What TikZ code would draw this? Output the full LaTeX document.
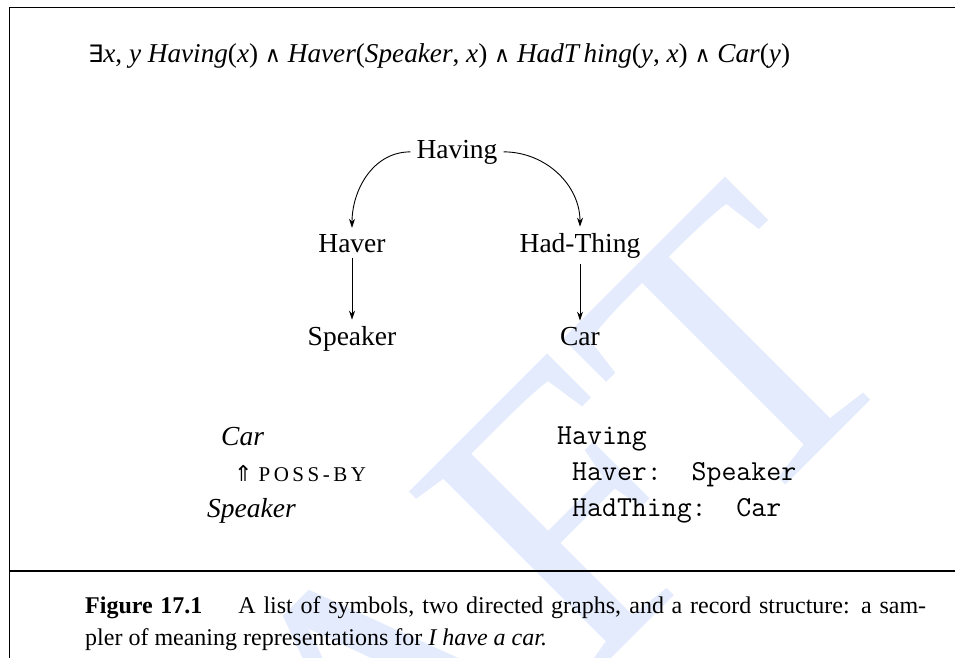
\documentclass[tikz,border=0pt]{standalone}
\usepackage{fontspec}
\setmainfont{Liberation Serif}
\newfontfamily\symfnt{DejaVu Sans}
\usetikzlibrary{arrows.meta}
\definecolor{wmblue}{RGB}{228,235,252}
\newcommand\treefont{\fontsize{27.5}{33}\selectfont}
\newcommand\formfont{\fontsize{27.2}{33}\selectfont}
\newcommand\recfont{\fontsize{29}{36}\selectfont\ttfamily}
\newcommand\capfont{\fontsize{24}{32}\selectfont}
\newcommand\wmfont{\fontsize{398}{400}\selectfont}
\newcommand\smallcapsfake{\fontsize{21}{26}\selectfont}
\newcommand\exsym{{\symfnt\fontsize{24}{30}\selectfont ∃}}
\newcommand\andsym{{\symfnt\fontsize{22}{30}\selectfont ∧}}
\begin{document}
\begin{tikzpicture}[x=1pt,y=1pt,
  lbl/.style={inner xsep=6pt, inner ysep=6pt, font=\treefont, anchor=base},
  txt/.style={inner sep=0pt, anchor=base west},
  arr/.style={-{Stealth[length=9pt,width=6pt]}, line width=0.9pt},
  frame/.style={line width=1pt}]
\useasboundingbox (0,0) rectangle (955,-658);
% watermark
\begin{scope}
\clip (0,0) rectangle (955,-658);
\node[inner sep=0pt, anchor=base east, rotate=45, font=\wmfont, text=wmblue] (wm) at (914.4,-356.2) {DRAFT};
\end{scope}
% frame
\draw[frame] (955,-8) -- (9,-8) -- (9,-658);
\draw[line width=1.5pt] (9,-571) -- (955,-571);
% formula
\node[txt, font=\formfont] (formula) at (88,-63) {\exsym\textit{x}, \textit{y} \textit{Having}(\textit{x}) \andsym\ \textit{Haver}(\textit{Speaker}, \textit{x}) \andsym\ \textit{HadT\,hing}(\textit{y}, \textit{x}) \andsym\ \textit{Car}(\textit{y})};
% directed graph
\node[lbl] (having) at (457,-158) {Having};
\node[lbl] (haver) at (352,-252) {Haver};
\node[lbl] (hadthing) at (580,-252) {Had-Thing};
\node[lbl] (speaker) at (352,-345) {Speaker};
\node[lbl] (car) at (580,-345) {Car};
\draw[arr] (having.west) to[out=180,in=90] (haver.north);
\draw[arr] (having.east) to[out=0,in=90] (hadthing.north);
\draw[arr] (haver) -- (speaker);
\draw[arr] (hadthing) -- (car);
% semantic network
\node[txt, font=\treefont] (scar) at (221,-445) {\textit{Car}};
\node[txt, font=\treefont] (poss) at (234,-481) {{\symfnt\fontsize{22}{26}\selectfont ⇑}\kern6pt{\smallcapsfake P\kern3.5pt O\kern3.5pt S\kern3.5pt S\kern3.5pt -\kern3.5pt B\kern3.5pt Y}};
\node[txt, font=\treefont] (sspeaker) at (207,-517) {\textit{Speaker}};
% record structure
\node[txt, font=\recfont] (rhaving) at (557,-444) {Having};
\node[txt, font=\recfont] (rhaver) at (572,-480) {Haver:\ \ Speaker};
\node[txt, font=\recfont] (rhad) at (572,-516) {HadThing:\ \ Car};
% caption
\node[txt, font=\capfont] (cap1) at (85,-613) {\makebox[841pt][s]{\textbf{Figure 17.1}\hspace{1.5em}A list of symbols, two directed graphs, and a record structure: a sam-}};
\node[txt, font=\capfont] (cap2) at (85,-645) {pler of meaning representations for \textit{I have a car.}};
\end{tikzpicture}
\end{document}
